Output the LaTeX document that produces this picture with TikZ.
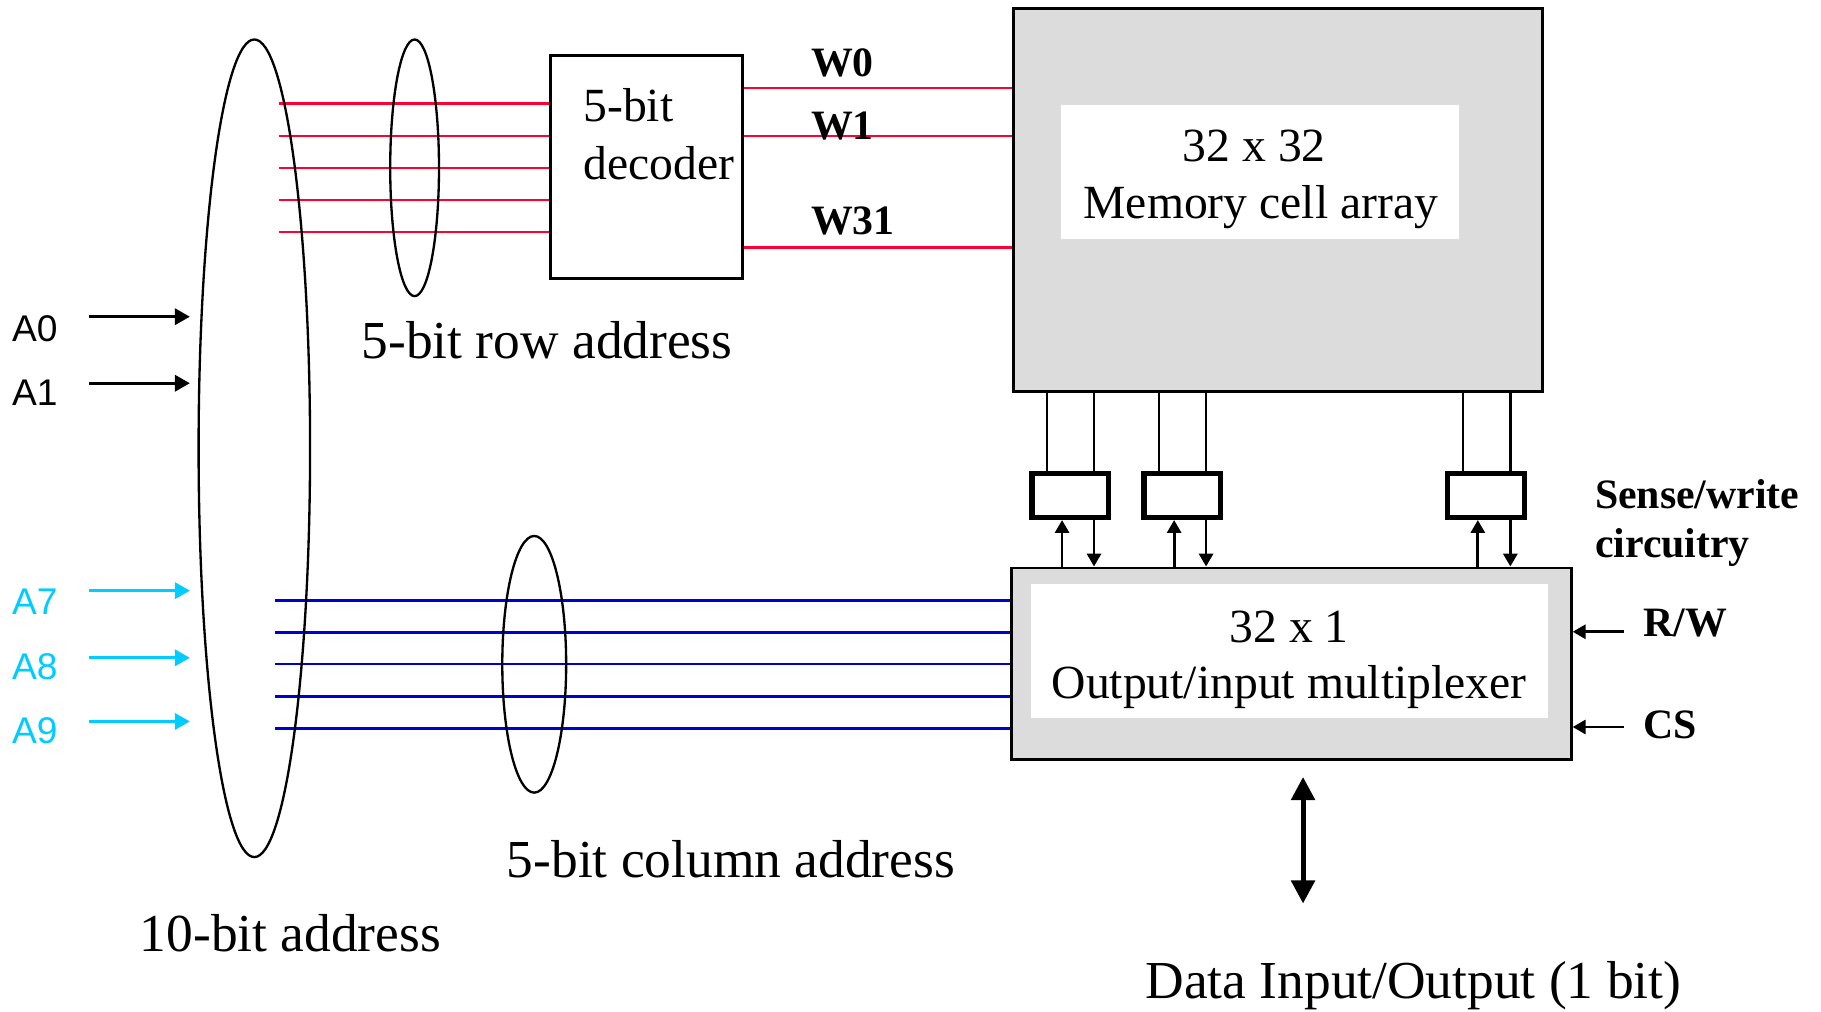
\documentclass[tikz,border=0pt]{standalone}
\usepackage{fontspec}
\setmainfont{Liberation Serif}
\newfontfamily\arialf{Liberation Sans}
\usetikzlibrary{arrows.meta,shapes.geometric}
\definecolor{wred}{RGB}{255,0,51}
\definecolor{cblue}{RGB}{0,0,204}
\definecolor{acyan}{RGB}{0,204,255}
\definecolor{memgray}{RGB}{220,220,220}
\begin{document}
\begin{tikzpicture}[x=0.5pt,y=-0.5pt,
  redw/.style={draw=wred, line width=1pt},
  bluew/.style={draw=cblue, line width=1pt},
  ring/.style={ellipse, draw, line width=1pt, inner sep=0pt},
  boxtxt/.style={font=\fontsize{20.5}{24}\selectfont, inner sep=0pt},
  lbl/.style={font=\fontsize{23}{27}\selectfont, inner sep=0pt, anchor=base west},
  blbl/.style={font=\bfseries\fontsize{18}{22}\selectfont, inner sep=0pt, anchor=base west},
  alb/.style={font=\arialf\fontsize{16}{19}\selectfont, inner sep=0pt, anchor=base west},
  inarr/.style={-{Triangle[length=6.5pt,width=7pt]}, line width=1.3pt},
  swarr/.style={-{Triangle[length=5.5pt,width=6pt]}, line width=1.2pt},
  swbox/.style={draw, line width=2.3pt, minimum width=33pt, minimum height=19pt, inner sep=0pt},
  bigbox/.style={draw, line width=1.2pt, fill=memgray, inner sep=0pt},
  whitebox/.style={fill=white, inner sep=0pt},
  vline/.style={line width=1pt}
]
\useasboundingbox (0,0) rectangle (1568,871);

% boxes
\node[bigbox, minimum width=227.5pt, minimum height=165pt] (mem) at (1100.5,172) {};
\node[whitebox, minimum width=171pt, minimum height=57.75pt] (memin) at (1085,147.75) {};
\node[bigbox, minimum width=241pt, minimum height=82.5pt] (mux) at (1112,571.5) {};
\node[whitebox, minimum width=222.5pt, minimum height=57.75pt] (muxin) at (1110.5,560.75) {};
\node[draw, line width=1.2pt, minimum width=82.5pt, minimum height=96pt, inner sep=0pt] (dec) at (556.5,144) {};

% sense/write boxes
\node[swbox] (sw1) at (921.5,426.5) {};
\node[swbox] (sw2) at (1018,426.5) {};
\node[swbox] (sw3) at (1279.5,426.5) {};

% box texts
\node[boxtxt, anchor=base west] (dect1) at (502,105) {5-bit};
\node[boxtxt, anchor=base west] (dect2) at (502,154.5) {decoder};
\node[boxtxt, anchor=base] (memt1) at (1080,139) {32 x 32};
\node[boxtxt, anchor=base] (memt2) at (1085.6,188) {Memory cell array};
\node[boxtxt, anchor=base] (muxt1) at (1110,553) {32 x 1};
\node[boxtxt, anchor=base] (muxt2) at (1110,601.5) {Output/input multiplexer};

% red row address lines
\foreach \i/\yy in {1/89,2/117,3/144.5,4/172,5/200}{
  \coordinate (r\i) at (240,\yy);
  \draw[redw] (r\i) -- (r\i -| dec.west);
}
% word lines
\foreach \n/\yy in {w0/75.5,w1/117,w31/213}{
  \coordinate (\n) at (700,\yy);
  \draw[redw] (\n -| dec.east) -- (\n -| mem.west);
}
% blue column address lines
\foreach \i/\yy in {1/517,2/544.5,3/572,4/599.7,5/627.3}{
  \coordinate (c\i) at (237,\yy);
  \draw[bluew] (c\i) -- (c\i -| mux.west);
}

% ellipses
\node[ring, minimum width=48pt, minimum height=352pt] (e10) at (219,386) {};
\node[ring, minimum width=21pt, minimum height=110.5pt] (erow) at (357,144.5) {};
\node[ring, minimum width=27.5pt, minimum height=110.5pt] (ecol) at (460,572) {};

% bit lines memory -> sense/write
\foreach \xx/\b in {901.5/sw1,942/sw1,998/sw2,1038.5/sw2,1260/sw3,1300.5/sw3}{
  \coordinate (bl) at (\xx,0);
  \draw[vline] (bl |- mem.south) -- (bl |- \b.north);
}
% sense/write <-> mux arrows
\foreach \xu/\xd/\b in {914.5/942/sw1,1011/1038.5/sw2,1272.5/1300.5/sw3}{
  \coordinate (au) at (\xu,0);
  \coordinate (ad) at (\xd,0);
  \draw[swarr] (au |- mux.north) -- (au |- \b.south);
  \draw[swarr] (ad |- \b.south) -- (ad |- mux.north);
}

% W labels
\node[blbl] (lw0) at (698,66) {W0};
\node[blbl] (lw1) at (698,120.5) {W1};
\node[blbl] (lw31) at (698,202) {W31};

% sense/write label
\node[blbl] (swl1) at (1373,437.6) {Sense/write};
\node[blbl] (swl2) at (1373,480) {circuitry};

% R/W and CS
\node[blbl] (rwl) at (1415,547.7) {R/W};
\node[blbl] (csl) at (1415,635.5) {CS};
\coordinate (rws) at (1398,544);
\coordinate (css) at (1398,626);
\draw[swarr] (rws) -- (rws -| mux.east);
\draw[swarr] (css) -- (css -| mux.east);

% data arrow
\coordinate (dtop) at (1122,669);
\coordinate (dbot) at (1122,778);
\draw[{Triangle[length=10pt,width=10pt]}-{Triangle[length=10pt,width=10pt]}, line width=2.2pt] (dtop) -- (dbot);

% address inputs
\node[alb] (a0) at (10,294) {A0};
\node[alb] (a1) at (10,349) {A1};
\node[alb, text=acyan] (a7) at (10,529.4) {A7};
\node[alb, text=acyan] (a8) at (10,585) {A8};
\node[alb, text=acyan] (a9) at (10,640.4) {A9};
\foreach \n/\yy/\cc in {a0/272.7/black,a1/330/black,a7/508.6/acyan,a8/566.4/acyan,a9/621.2/acyan}{
  \coordinate (\n s) at (77,\yy);
  \coordinate (\n e) at (163.5,\yy);
  \draw[inarr, draw=\cc, fill=\cc] (\n s) -- (\n e);
}

% labels
\node[lbl] (rowlbl) at (311,309) {5-bit row address};
\node[lbl] (collbl) at (436,756) {5-bit column address};
\node[lbl] (addrlbl) at (120,819) {10-bit address};
\node[lbl] (datalbl) at (986,860) {Data Input/Output (1 bit)};
\end{tikzpicture}
\end{document}
